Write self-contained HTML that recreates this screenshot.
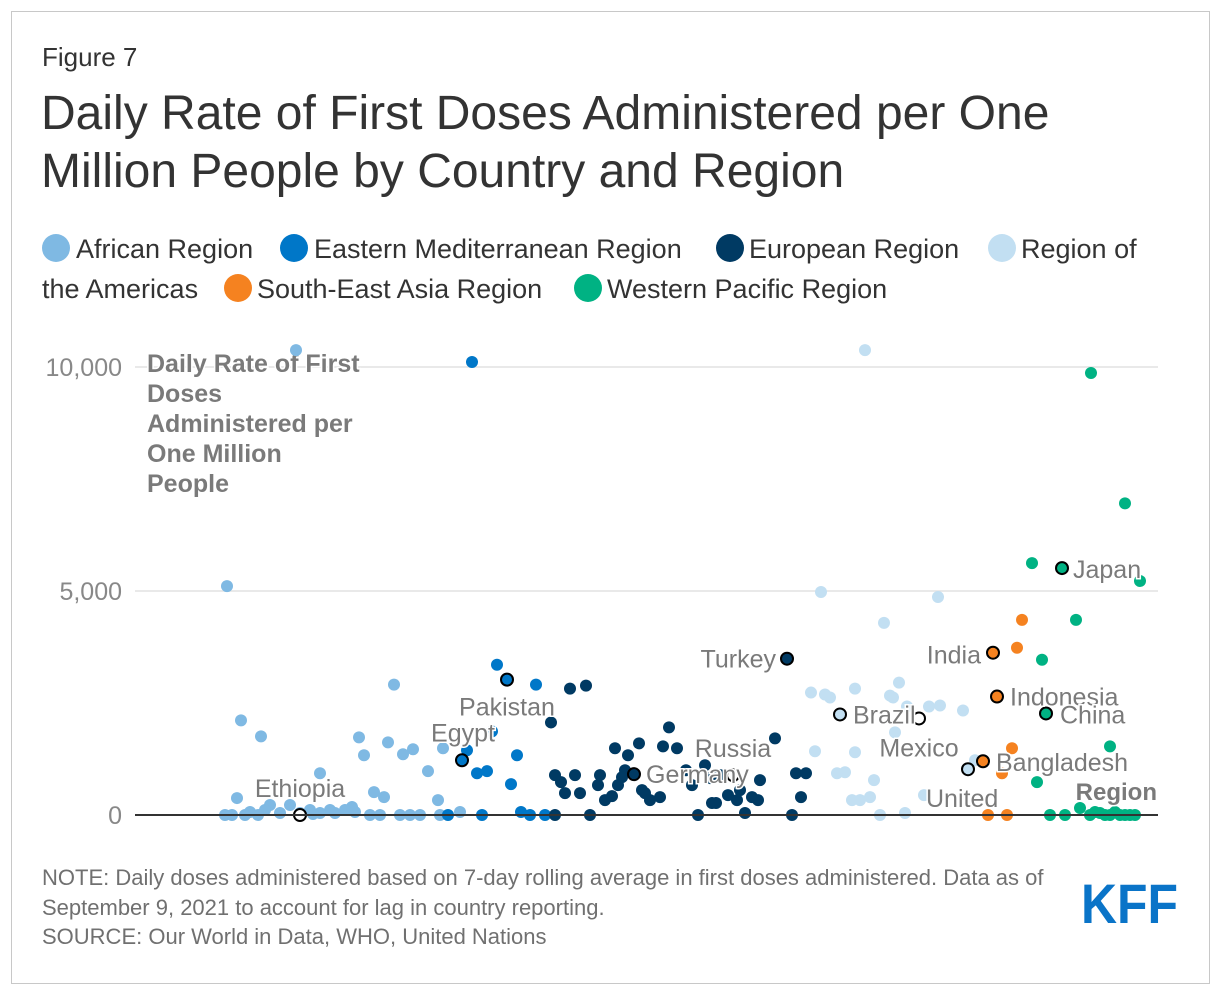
<!DOCTYPE html>
<html><head><meta charset="utf-8"><style>
body{margin:0;background:#fff;font-family:"Liberation Sans",sans-serif;}
#wrap{position:relative;width:1220px;height:1006px;}
.frame{position:absolute;left:11px;top:11px;width:1197px;height:971px;border:1px solid #c8c8c8;}
.t{position:absolute;color:#333;white-space:nowrap;}
.leg{position:absolute;font-size:27px;color:#333;white-space:nowrap;line-height:30px;}
.dot{position:absolute;width:28px;height:28px;border-radius:50%;}
.note{position:absolute;left:42px;font-size:22px;color:#707070;white-space:nowrap;}
</style></head><body>
<div id="wrap">
<div class="frame"></div>
<div class="t" style="left:42px;top:42px;font-size:26px;">Figure 7</div>
<div class="t" style="left:41px;top:85px;font-size:48px;line-height:58px;color:#333;">Daily Rate of First Doses Administered per One<br>Million People by Country and Region</div>

<div class="dot" style="left:42px;top:234px;background:#7fb9e3"></div>
<div class="leg" style="left:76px;top:234px;">African Region</div>
<div class="dot" style="left:280px;top:234px;background:#0077c8"></div>
<div class="leg" style="left:314px;top:234px;">Eastern Mediterranean Region</div>
<div class="dot" style="left:716px;top:234px;background:#003a63"></div>
<div class="leg" style="left:749px;top:234px;">European Region</div>
<div class="dot" style="left:988px;top:234px;background:#c2dff2"></div>
<div class="leg" style="left:1021px;top:234px;">Region of</div>
<div class="leg" style="left:42px;top:274px;">the Americas</div>
<div class="dot" style="left:224px;top:274px;background:#f58220"></div>
<div class="leg" style="left:257px;top:274px;">South-East Asia Region</div>
<div class="dot" style="left:574px;top:274px;background:#00b283"></div>
<div class="leg" style="left:607px;top:274px;">Western Pacific Region</div>

<svg id="chart" width="1220" height="1006" style="position:absolute;left:0;top:0;"></svg>
<div class="note" style="top:865px;">NOTE: Daily doses administered based on 7-day rolling average in first doses administered. Data as of</div>
<div class="note" style="top:895px;">September 9, 2021 to account for lag in country reporting.</div>
<div class="note" style="top:924px;">SOURCE: Our World in Data, WHO, United Nations</div>
<svg style="position:absolute;left:1078px;top:876px;" width="104" height="52"><text x="3" y="47" font-family="Liberation Sans" font-weight="bold" font-size="56" fill="#0a74c8" textLength="97" lengthAdjust="spacingAndGlyphs">KFF</text></svg>
</div>
<script>
// jitter position (0-1023) and daily rate per million, by region
const afrX=[92,161,106,126,102,259,224,229,253,278,268,308,293,185,239,249,303,217,210,195,175,155,135,115,130,145,165,185,200,220,90,97,110,123,235,245,265,275,285,305,325,178];
const afrV=[5110,10377,2111,1755,378,2911,1733,1333,1622,1467,1355,1489,978,933,511,400,333,178,111,111,111,222,222,67,111,44,44,44,44,67,0,0,0,0,0,0,0,0,0,0,67,22];
const emrX=[337,362,401,357,382,332,342,352,376,347,313,386,395,410];
const emrV=[10111,3355,2911,1866,1333,1444,933,978,689,0,0,67,0,0];
const eurX=[416,435,451,534,528,504,493,480,465,420,440,426,430,445,455,420,463,477,490,510,515,487,483,470,507,525,542,551,557,575,577,581,593,602,605,617,623,640,661,671,666,563,610,657,625,570,585];
const eurV=[2066,2822,2889,1955,1533,1600,1333,1489,889,889,889,733,489,489,0,0,667,422,1000,489,333,844,667,333,556,400,1489,1000,667,822,267,267,444,333,556,400,333,1711,933,933,400,0,44,0,778,1111,889];
const amrX=[730,686,749,803,764,676,690,695,720,755,758,772,805,828,794,680,720,710,702,739,760,789,717,725,735,745,770,840];
const amrV=[10377,4977,4289,4866,2955,2733,2689,2622,2822,2666,2622,2422,2444,2333,2422,1422,1400,955,933,778,1844,444,333,333,400,0,44,1222];
const searX=[887,882,877,867,853,872];
const searV=[4355,3733,1489,933,0,0];
const wprX=[956,990,897,1005,941,907,975,902,945,915,930,955,965,975,985,995,1000,960,970,980,990];
const wprV=[9866,6955,5622,5222,4355,3466,1533,733,156,0,0,0,44,0,0,0,0,67,0,67,0];
// highlighted countries
const hlNames=["Ethiopia","Egypt","Pakistan","Germany","Russia","Turkey","Brazil","Mexico","United States","India","Indonesia","Bangladesh","China","Japan"];
const hlX=[165,327,372,499,598,652,705,784,833,858,862,848,911,927];
const hlV=[0,1222,3022,911,889,3489,2244,2155,1022,3622,2644,1200,2266,5511];
const hlFill=["#fff","#0077c8","#0077c8","#003a63","#fff","#003a63","#c2dff2","#fff","#c2dff2","#f58220","#f58220","#f58220","#00b283","#00b283"];
const yTicks=[0,5000,10000];
const yTickLabels=["0","5,000","10,000"];

const NS="http://www.w3.org/2000/svg";
const svg=document.getElementById('chart');
const X0=135,X1=1158,Y0=815,Y1=367;
const xS=v=>X0+v*(X1-X0)/1023;
const yS=v=>Y0-v*(Y0-Y1)/10000;
function mk(tag,attrs){const e=document.createElementNS(NS,tag);for(const k in attrs)e.setAttribute(k,attrs[k]);svg.appendChild(e);return e;}

yTicks.forEach((t,i)=>{
  if(t>0){const g=mk('line',{x1:X0,x2:X1,y1:yS(t),y2:yS(t),stroke:'#e2e2e2','stroke-width':1.5});
  
  }
  const l=mk('text',{x:122,y:yS(t)+9,'text-anchor':'end','font-size':25,fill:'#888','font-family':'Liberation Sans'});
  l.textContent=yTickLabels[i];
  
  
});
const yt=mk('text',{x:147,'font-size':25,'font-weight':'bold',fill:'#7a7a7a',stroke:'#fff','stroke-width':3,'paint-order':'stroke','font-family':'Liberation Sans'});


["Daily Rate of First","Doses","Administered per","One Million","People"].forEach((s,i)=>{const ts=document.createElementNS(NS,'tspan');ts.setAttribute('x',147);ts.setAttribute('y',372+i*30);ts.textContent=s;yt.appendChild(ts);});

function series(xs,vs,col,name){
  xs.forEach((x,i)=>{
    const c=mk('circle',{cx:xS(x),cy:yS(vs[i]),r:6,fill:col});
    
    
  });
}
series(afrX,afrV,'#7fb9e3','african');
series(emrX,emrV,'#0077c8','eastern-mediterranean');
series(eurX,eurV,'#003a63','european');
series(amrX,amrV,'#c2dff2','americas');
series(searX,searV,'#f58220','south-east-asia');
series(wprX,wprV,'#00b283','western-pacific');
hlX.forEach((x,i)=>{
  const c=mk('circle',{cx:xS(x),cy:yS(hlV[i]),r:6,fill:hlFill[i],stroke:'#000','stroke-width':2});
  
  
});
const ax=mk('line',{x1:X0,x2:X1,y1:Y0,y2:Y0,stroke:'#333','stroke-width':2});



// label placement: [dx, dy, anchor]
const lblPos=[[0,-18,'middle'],[1,-19,'middle'],[0,36,'middle'],[12,9,'start'],[0,-18,'middle'],[-11,9,'end'],[13,9,'start'],[0,38,'middle'],[-42,38,'start'],[-12,11,'end'],[13,9,'start'],[13,10,'start'],[14,10,'start'],[11,10,'start']];
hlNames.forEach((n,i)=>{
  const p=lblPos[i];
  const t=mk('text',{x:xS(hlX[i])+p[0],y:yS(hlV[i])+p[1],'text-anchor':p[2],'font-size':25,fill:'#7a7a7a',stroke:'#fff','stroke-width':3,'paint-order':'stroke','font-family':'Liberation Sans'});
  t.textContent=(n==="United States")?"United":n;
  
  
});
const rg=mk('text',{x:1157,y:800,'text-anchor':'end','font-size':24,'font-weight':'bold',fill:'#7a7a7a',stroke:'#fff','stroke-width':3,'paint-order':'stroke','font-family':'Liberation Sans'});
rg.textContent="Region";


</script>
</body></html>
